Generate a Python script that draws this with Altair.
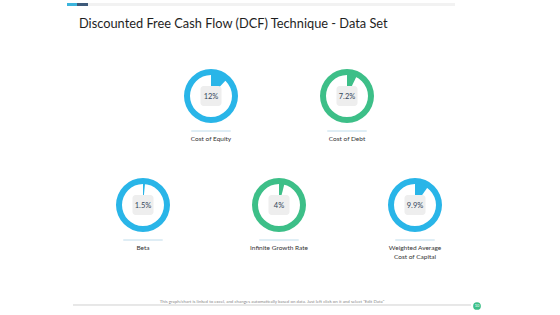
import math
import altair as alt
import pandas as pd

# ---- data ----
metrics = ["Cost of Equity", "Cost of Debt", "Beta", "Infinite Growth Rate", "Weighted Average\nCost of Capital"]
values = [12, 7.2, 1.5, 4, 9.9]
value_labels = ["12%", "7.2%", "1.5%", "4%", "9.9%"]

# ---- layout (grid slots, styles) ----
slot_col = [0.5, 1.5, 0, 1, 2]
slot_row = [0, 0, 1, 1, 1]
BLUE = "#29B5E8"
GREEN = "#3DBF88"
colors = [BLUE, GREEN, BLUE, GREEN, BLUE]

df = pd.DataFrame({
    "metric": metrics,
    "value": values,
    "vlabel": value_labels,
    "col": slot_col,
    "row": slot_row,
    "color": colors,
})

xs = alt.Scale(domain=[0, 1], range=[143, 279])
ys = alt.Scale(domain=[0, 1], range=[96, 205])
X = alt.X("col:Q", scale=xs, axis=None)
Y = alt.Y("row:Q", scale=ys, axis=None)

base = alt.Chart(df).transform_calculate(
    t0="0",
    t1="datum.value / 100 * 2 * PI",
    full="2 * PI",
    cl="datum.col - 0.145",
    cr="datum.col + 0.145",
)

ring = base.mark_arc(radius=27, radius2=21).encode(
    x=X, y=Y,
    theta=alt.Theta("t0:Q", scale=None),
    theta2=alt.Theta2("full:Q"),
    color=alt.Color("color:N", scale=None),
)

wedge = base.mark_arc(radius=22, radius2=0).encode(
    x=X, y=Y,
    theta=alt.Theta("t0:Q", scale=None),
    theta2=alt.Theta2("t1:Q"),
    color=alt.Color("color:N", scale=None),
)

square = base.mark_rect(width=21, height=20, cornerRadius=3, color="#EEEEEE").encode(
    x=X, y=Y,
)

center_text = base.mark_text(font="Lato", fontSize=7.5, color="#34465A", baseline="middle", align="center", dy=1).encode(
    x=X, y=Y, text="vlabel:N"
)

label_rule = base.mark_rule(color="#BFDCEB", strokeWidth=1, yOffset=35).encode(
    x=alt.X("cl:Q", scale=xs, axis=None),
    x2="cr:Q",
    y=Y,
)

label_text = base.mark_text(font="Lato", fontSize=6.5, color="#333333", baseline="top", align="center",
                            dy=40, lineBreak="\n", lineHeight=9).encode(
    x=X, y=Y, text="metric:N"
)

# decorations
one = alt.Chart(pd.DataFrame({"a": [0]}))
topbar_gray = one.mark_rect(color="#F2F2F2").encode(x=alt.value(88), x2=alt.value(455), y=alt.value(3), y2=alt.value(6))
topbar_blue = one.mark_rect(color="#3BB4DC").encode(x=alt.value(67), x2=alt.value(77), y=alt.value(3), y2=alt.value(6))
topbar_navy = one.mark_rect(color="#3E5A7A").encode(x=alt.value(77), x2=alt.value(88), y=alt.value(3), y2=alt.value(6))
title = one.mark_text(text="Discounted Free Cash Flow (DCF) Technique - Data Set", font="Lato", fontSize=12.8,
                      color="#1E1E1E", align="left", baseline="alphabetic").encode(x=alt.value(79), y=alt.value(28))
foot_line = one.mark_rule(color="#BBBBBB", strokeWidth=0.7).encode(x=alt.value(73), x2=alt.value(471), y=alt.value(305))
foot_text = one.mark_text(text='This graph/chart is linked to excel, and changes automatically based on data. Just left click on it and select "Edit Data"',
                          font="Lato", fontSize=4.4, color="#888888", align="center", baseline="middle").encode(
    x=alt.value(272), y=alt.value(302))
foot_dot = one.mark_point(filled=True, shape="circle", size=60, color="#3DBF88", opacity=1).encode(
    x=alt.value(477), y=alt.value(306))
foot_num = one.mark_text(text="10", font="Lato", fontSize=4, color="white", align="center", baseline="middle").encode(
    x=alt.value(477), y=alt.value(306))

chart = alt.layer(
    topbar_gray, topbar_blue, topbar_navy, title,
    ring, wedge, square, center_text, label_rule, label_text,
    foot_line, foot_text, foot_dot, foot_num,
).properties(
    width=560, height=315, padding=0, autosize="none", background="white"
).configure_view(stroke=None)

chart.save("out.html", embed_options={"renderer": "svg", "actions": False})
